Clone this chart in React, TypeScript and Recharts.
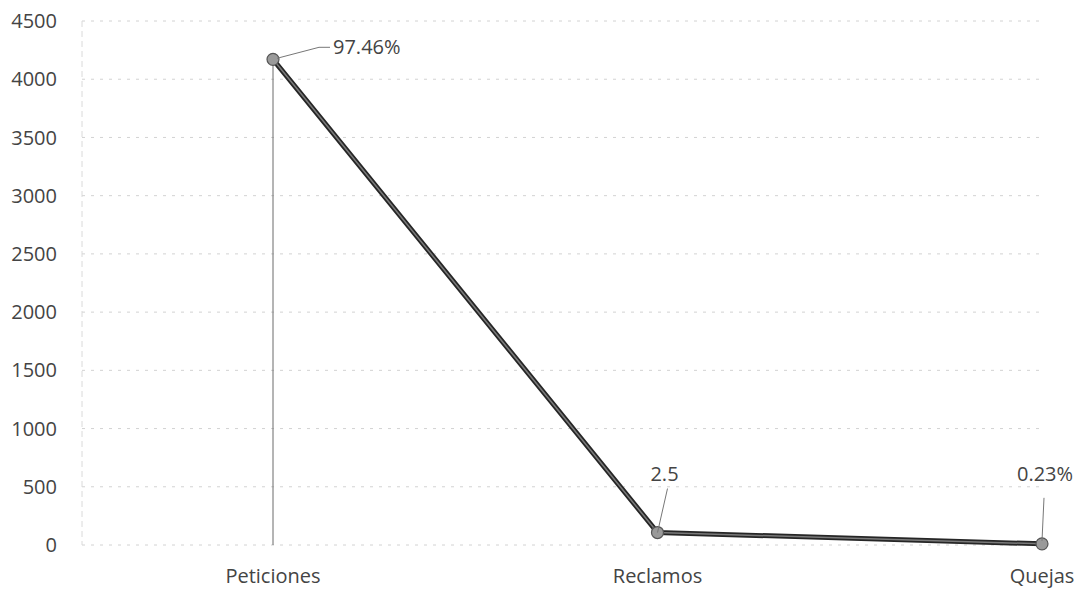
import React from 'react';
import {
  LineChart,
  Line,
  XAxis,
  YAxis,
  CartesianGrid,
  ReferenceLine,
  LabelList,
} from 'recharts';

// Request counts by type
const categories = ['Peticiones', 'Reclamos', 'Quejas'];
const counts = [4171, 107, 10];
const shares = ['97.46%', '2.5', '0.23%'];
const yTicks = [0, 500, 1000, 1500, 2000, 2500, 3000, 3500, 4000, 4500];

const data = categories.map((name, i) => ({ name, count: counts[i], share: shares[i] }));

const FONT = '"Open Sans", sans-serif';
const TEXT = '#444';
const FS = 20;

// Callout label with a thin leader line from the point to the text
const Callout = (props: any) => {
  const { x, y, index, value } = props;
  const lead = '#777';
  if (index === 0) {
    return (
      <g>
        <polyline
          points={`${x + 4},${y - 1} ${x + 46},${y - 12} ${x + 57},${y - 12}`}
          fill="none"
          stroke={lead}
          strokeWidth={1}
        />
        <text x={x + 60} y={y - 12} dy="0.35em" textAnchor="start" fontFamily={FONT} fontSize={FS} fill={TEXT}>
          {value}
        </text>
      </g>
    );
  }
  if (index === 1) {
    return (
      <g>
        <line x1={x} y1={y} x2={x + 10} y2={y - 44} stroke={lead} strokeWidth={1} />
        <text x={x + 7} y={y - 59} dy="0.35em" textAnchor="middle" fontFamily={FONT} fontSize={FS} fill={TEXT}>
          {value}
        </text>
      </g>
    );
  }
  return (
    <g>
      <line x1={x} y1={y - 3} x2={x + 2} y2={y - 46} stroke={lead} strokeWidth={1} />
      <text x={x + 3} y={y - 70} dy="0.35em" textAnchor="middle" fontFamily={FONT} fontSize={FS} fill={TEXT}>
        {value}
      </text>
    </g>
  );
};

const Marker = (props: any) => {
  const { cx, cy } = props;
  return <circle cx={cx} cy={cy} r={6} fill="#9a9a9a" stroke="#555" strokeWidth={1.2} />;
};

export default function App() {
  return (
    <div style={{ position: 'absolute', left: 0, top: 0, width: 1081, height: 591, background: '#fff' }}>
      <LineChart
        width={1081}
        height={591}
        data={data}
        margin={{ top: 21, right: 39, bottom: 16, left: 0 }}
      >
        <CartesianGrid vertical={false} stroke="#d2d2d2" strokeDasharray="3 6" />
        <XAxis
          dataKey="name"
          height={30}
          axisLine={false}
          tickLine={false}
          tickSize={0}
          tickMargin={24}
          padding={{ left: 191, right: 0 }}
          tick={{ fontFamily: FONT, fontSize: FS, fill: TEXT }}
        />
        <YAxis
          width={82}
          domain={[0, 4500]}
          ticks={yTicks}
          interval={0}
          tickLine={false}
          tickSize={0}
          tickMargin={25}
          axisLine={{ stroke: '#dadada', strokeDasharray: '6 4' }}
          tick={{ fontFamily: FONT, fontSize: FS, fill: TEXT }}
        />
        <ReferenceLine
          segment={[
            { x: categories[0], y: 0 },
            { x: categories[0], y: counts[0] },
          ]}
          stroke="#6a6a6a"
          strokeWidth={1}
        />
        <Line
          dataKey="count"
          stroke="#262626"
          strokeWidth={5}
          dot={false}
          activeDot={false}
          isAnimationActive={false}
        />
        <Line
          dataKey="count"
          stroke="#7a7a7a"
          strokeWidth={1.5}
          dot={<Marker />}
          activeDot={false}
          isAnimationActive={false}
        >
          <LabelList dataKey="share" content={<Callout />} />
        </Line>
      </LineChart>
    </div>
  );
}
